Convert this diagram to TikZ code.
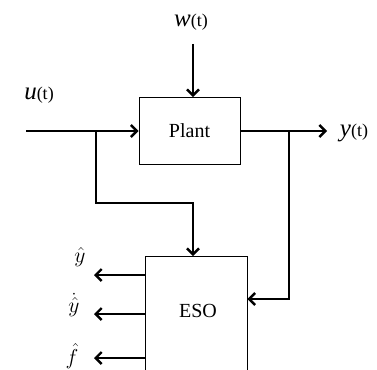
\documentclass[tikz,border=0pt]{standalone}
\usepackage{graphicx}
\usepackage{fontspec}
\setmainfont{Liberation Serif}
\usetikzlibrary{arrows.meta}
\begin{document}
\begin{tikzpicture}[x=1pt,y=-1pt,
  box/.style={draw, line width=0.8pt, inner sep=0pt, font=\fontsize{20}{24}\selectfont},
  sig/.style={line width=2.6pt, -{Straight Barb[length=6pt,width=12pt,line width=2.4pt]}},
  lbl/.style={inner sep=0pt},
  hatlbl/.style={inner sep=0pt, font=\fontsize{17}{20}\selectfont},
]
\useasboundingbox (0,0) rectangle (377,369);
\clip (0,0) rectangle (377,369);
\node (plant) [box, minimum width=101pt, minimum height=67pt] at (189.5,131) {Plant};
\node (eso) [box, minimum width=102pt, minimum height=150pt, anchor=north] at (196,256) {};
\node (esotext) [lbl, font=\fontsize{20}{24}\selectfont] at (198,311) {ESO};

\coordinate (uin) at (26,131);
\coordinate (win) at (193,44);
\coordinate (yout) at (327,131);
\coordinate (b1) at (96,131);
\coordinate (b1d) at (96,203);
\coordinate (b2) at (289,131);
\coordinate (b2d) at (289,299);
\coordinate (o1) at (94,275);
\coordinate (o2) at (94,314);
\coordinate (o3) at (94,358);

\draw[sig] (uin) -- (plant.west);
\draw[sig] (win) -- (win |- plant.north);
\draw[sig] (plant.east) -- (yout);
\draw[sig] (b1) -- (b1d) -| (eso.north -| win);
\draw[sig] (b2) -- (b2d) -- (b2d -| eso.east);
\draw[sig] (o1 -| eso.west) -- (o1);
\draw[sig] (o2 -| eso.west) -- (o2);
\draw[sig] (o3 -| eso.west) -- (o3);

\node (wl) [lbl] at (191,22) {\fontsize{25}{28}\selectfont\textit{w}\fontsize{18}{20}\selectfont(t)};
\node (ul) [lbl] at (39,95) {\fontsize{25}{28}\selectfont\textit{u}\fontsize{18}{20}\selectfont(t)};
\node (yl) [lbl] at (354,133) {\fontsize{25}{28}\selectfont\textit{y}\fontsize{18}{20}\selectfont(t)};
\node (l1) [hatlbl] at (80,257) {\scalebox{1.25}{$\hat{y}$}};
\node (l2) [hatlbl] at (74,305) {\scalebox{1.25}{$\dot{\hat{y}}$}};
\node (l3) [hatlbl] at (72,356) {\scalebox{1.25}{$\hat{f}$}};
\end{tikzpicture}
\end{document}
